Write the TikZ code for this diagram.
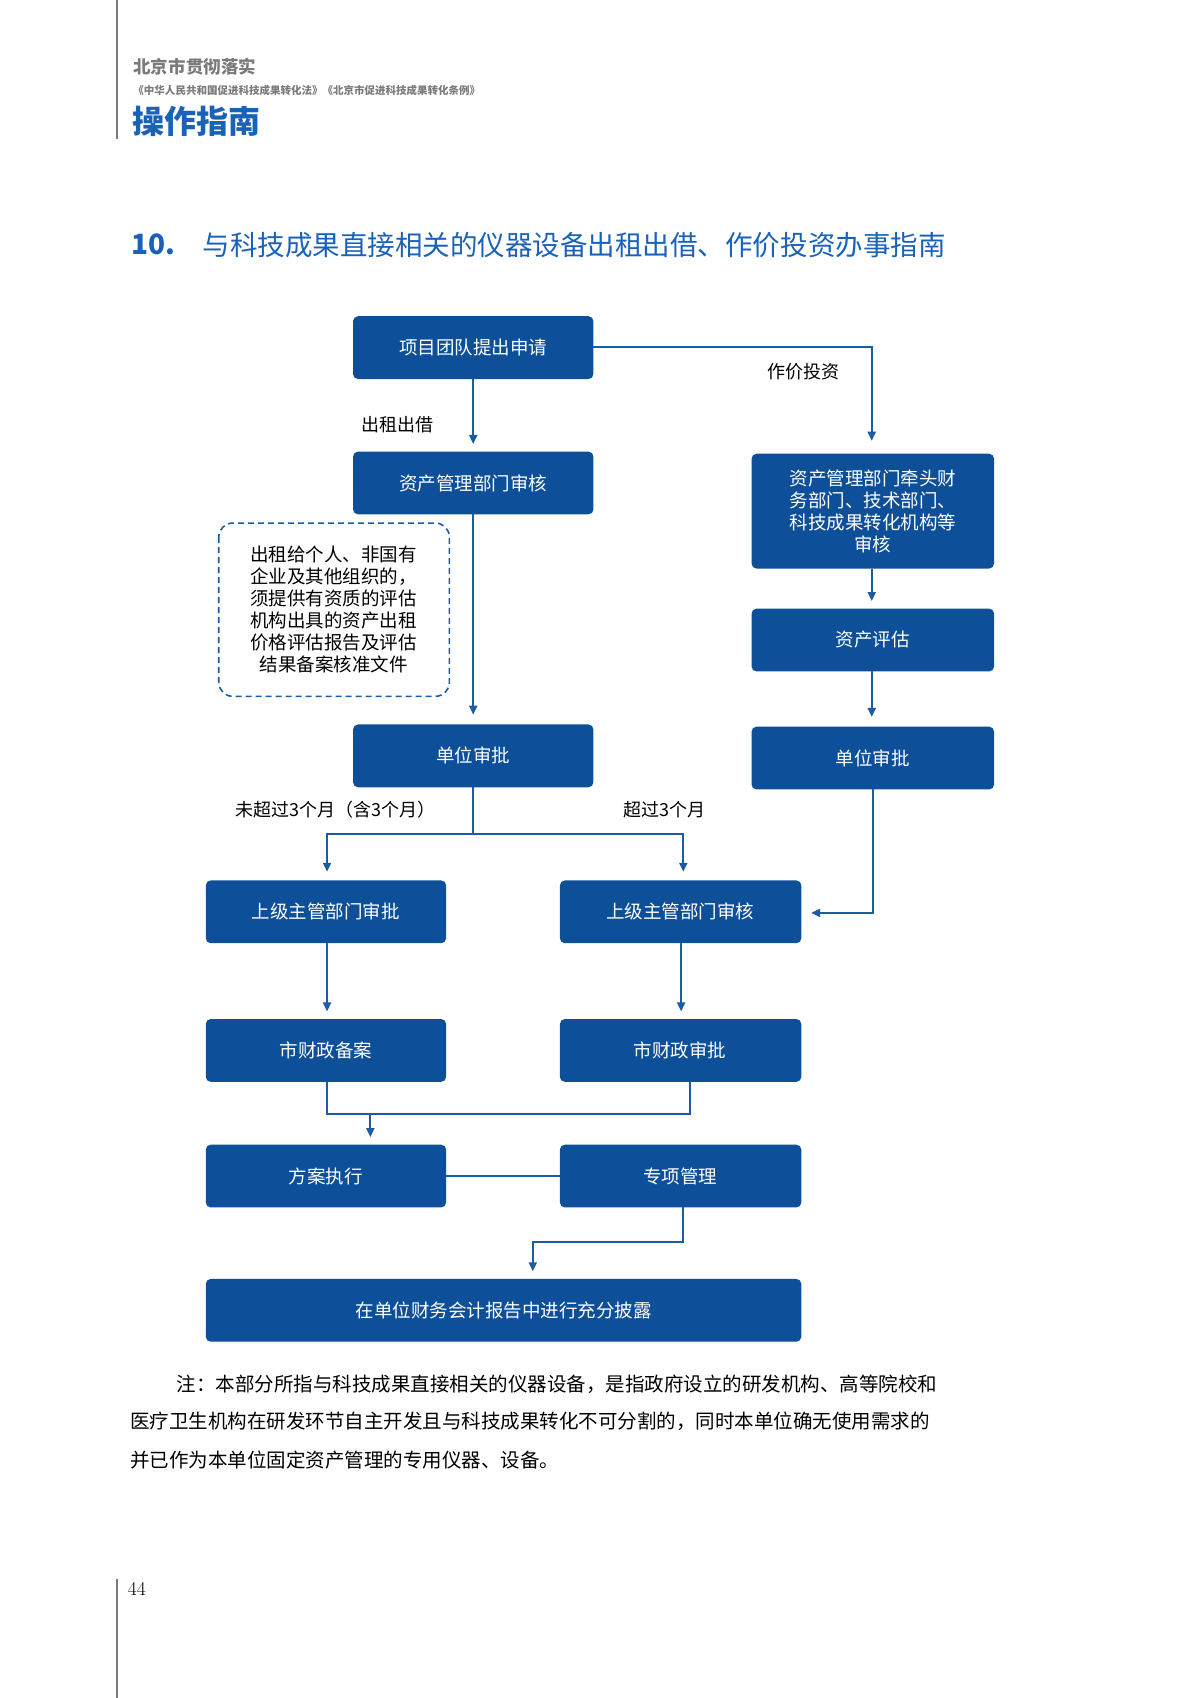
\documentclass[tikz,border=0pt]{standalone}
\usepackage{fontspec}
\setmainfont{Noto Sans CJK SC}
\newfontfamily\cjkb{Noto Sans CJK SC}[BoldFont={* Bold}]
\usetikzlibrary{arrows.meta}
\definecolor{boxblue}{HTML}{0D4F98}
\definecolor{lineblue}{HTML}{1C5CA4}
\definecolor{titleblue}{HTML}{1A62B8}
\definecolor{hgray}{HTML}{7A7A7A}
\begin{document}
\begin{tikzpicture}[x=1.0825pt,y=-1.0825pt,
 bx/.style={fill=boxblue,rounded corners=5pt,text=white,font=\fontsize{18.5}{22}\selectfont,align=center,inner sep=0pt},
 ln/.style={draw=lineblue,line width=2pt},
 ar/.style={ln,-{Triangle[length=9pt,width=8pt]}},
 lb/.style={font=\fontsize{18}{22}\selectfont,text=black}]
\useasboundingbox (0,0) rectangle (1108,1568);
\draw[hgray,line width=1.2pt] (108,0) -- (108,128);
\draw[hgray,line width=1.2pt] (108,1458) -- (108,1568);
\node[anchor=west,text=hgray,font=\fontsize{17.5}{20}\selectfont\bfseries] at (120,62) {北京市贯彻落实};
\node[anchor=west,text=hgray,font=\fontsize{10.5}{12}\selectfont\bfseries] at (120,84) {《中华人民共和国促进科技成果转化法》《北京市促进科技成果转化条例》};
\node[anchor=west,text=titleblue,font=\fontsize{32}{36}\selectfont\bfseries] at (119,112) {操作指南};
\node[anchor=west,text=titleblue,font=\fontsize{28}{32}\selectfont\bfseries] at (118,226) {10.};
\node[anchor=west,text=titleblue,font=\fontsize{27.5}{32}\selectfont] at (184,226) {与科技成果直接相关的仪器设备出租出借、作价投资办事指南};
% boxes
\path[bx] (326,292) rectangle (548,350); \node[bx] (A) at (437,321) {项目团队提出申请};
\path[bx] (326,417) rectangle (548,475); \node[bx] (B) at (437,446) {资产管理部门审核};
\path[bx] (326,669) rectangle (548,727); \node[bx] (C) at (437,698) {单位审批};
\path[bx] (694,419) rectangle (918,525); \node[bx] (R1) at (806,472) {资产管理部门牵头财\\务部门、技术部门、\\科技成果转化机构等\\审核};
\path[bx] (694,562) rectangle (918,620); \node[bx] (R2) at (806,591) {资产评估};
\path[bx] (694,671) rectangle (918,729); \node[bx] (R3) at (806,700) {单位审批};
\path[bx] (190,813) rectangle (412,871); \node[bx] (L1) at (301,842) {上级主管部门审批};
\path[bx] (517,813) rectangle (740,871); \node[bx] (M1) at (628,842) {上级主管部门审核};
\path[bx] (190,941) rectangle (412,999); \node[bx] (L2) at (301,970) {市财政备案};
\path[bx] (517,941) rectangle (740,999); \node[bx] (M2) at (628,970) {市财政审批};
\path[bx] (190,1057) rectangle (412,1115); \node[bx] (L3) at (301,1086) {方案执行};
\path[bx] (517,1057) rectangle (740,1115); \node[bx] (M3) at (628,1086) {专项管理};
\path[bx] (190,1181) rectangle (740,1239); \node[bx] (F) at (465,1210) {在单位财务会计报告中进行充分披露};
% dashed note
\draw[lineblue,line width=1.6pt,dash pattern=on 6pt off 4pt,rounded corners=14pt] (202,483) rectangle (415,643);
\node[font=\fontsize{18.5}{22}\selectfont,align=center,inner sep=0pt] (N) at (308,563) {出租给个人、非国有\\企业及其他组织的，\\须提供有资质的评估\\机构出具的资产出租\\价格评估报告及评估\\结果备案核准文件};
% connectors
\coordinate (a1) at (805,320);
\draw[ar] (548,320) -- (a1) -- (805,407);
\node[lb] at (742,343) {作价投资};
\draw[ar] (437,350) -- (437,410);
\node[lb] at (367,392) {出租出借};
\draw[ar] (437,475) -- (437,660);
\draw[ar] (805,525) -- (805,555);
\draw[ar] (805,620) -- (805,662);
\draw[ln] (437,727) -- (437,770);
\draw[ar] (437,770) -- (302,770) -- (302,805);
\draw[ar] (437,770) -- (631,770) -- (631,805);
\node[lb] at (310,748) {未超过3个月（含3个月）};
\node[lb] at (614,748) {超过3个月};
\draw[ar] (806,729) -- (806,843) -- (749,843);
\draw[ar] (302,871) -- (302,934);
\draw[ar] (629,871) -- (629,934);
\draw[ln] (302,999) -- (302,1029) -- (637,1029) -- (637,999);
\draw[ar] (342,1029) -- (342,1050);
\draw[ln] (412,1086) -- (517,1086);
\draw[ar] (631,1115) -- (631,1147) -- (492,1147) -- (492,1174);
% note
\begin{scope}[every node/.style={anchor=west,inner sep=0pt,font=\fontsize{19.5}{24}\selectfont}]
\node at (163,1278) {注：本部分所指与科技成果直接相关的仪器设备，是指政府设立的研发机构、高等院校和};
\node at (120,1312) {医疗卫生机构在研发环节自主开发且与科技成果转化不可分割的，同时本单位确无使用需求的};
\node at (120,1348) {并已作为本单位固定资产管理的专用仪器、设备。};
\node at (118,1467) {\fontfamily{lmr}\selectfont 44};
\end{scope}
\end{tikzpicture}
\end{document}
